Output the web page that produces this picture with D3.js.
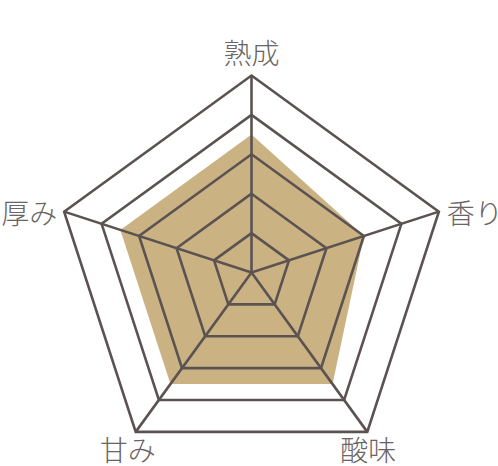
<!DOCTYPE html>
<head>
  <meta charset="utf-8">
  <title>radar</title>
  <style>
    body { margin: 0; background: #fff; }
  </style>
</head>

<script src="https://d3js.org/d3.v7.min.js"></script>

<div id="my_dataviz"></div>

<script>

  // axes clockwise from the top
  const axes = ["熟成", "香り", "酸味", "甘み", "厚み"];
  const values = [3.5, 3, 3.5, 3.5, 3.5];
  const levels = [1, 2, 3, 4, 5];

  const width = 498, height = 466;
  const cx = 251.5, cy = 272.5, R = 197;

  const svg = d3.select("#my_dataviz")
    .append("svg")
      .attr("width", width)
      .attr("height", height);

  const r = d3.scaleLinear().domain([0, 5]).range([0, R]);
  const angle = d3.scalePoint().domain(axes).range([0, 2 * Math.PI * 4 / 5]);

  const pt = (a, v) => [cx + r(v) * Math.sin(angle(a)), cy - r(v) * Math.cos(angle(a))];

  const line = d3.line();

  // data area under the grid
  svg.append("path")
    .attr("d", line(axes.map((a, i) => pt(a, values[i]))) + "Z")
    .attr("fill", "#cbb283");

  // grid rings
  svg.append("g")
    .selectAll("path")
    .data(levels)
    .join("path")
      .attr("d", l => line(axes.map(a => pt(a, l))) + "Z")
      .attr("fill", "none")
      .attr("stroke", "#5b5352")
      .attr("stroke-width", 2.6)
      .attr("stroke-linejoin", "miter");

  // spokes
  svg.append("g")
    .selectAll("line")
    .data(axes)
    .join("line")
      .attr("x1", cx).attr("y1", cy)
      .attr("x2", a => pt(a, 5)[0])
      .attr("y2", a => pt(a, 5)[1])
      .attr("stroke", "#5b5352")
      .attr("stroke-width", 2.6);

  // labels: offset from the outer vertex
  const off = {
    "熟成": {dx: 0, dy: -12, anchor: "middle", base: "auto"},
    "香り": {dx: 8, dy: 0, anchor: "start", base: "central"},
    "酸味": {dx: 1, dy: 29, anchor: "middle", base: "auto"},
    "甘み": {dx: -8, dy: 29, anchor: "middle", base: "auto"},
    "厚み": {dx: -7, dy: 0, anchor: "end", base: "central"}
  };

  svg.append("g")
    .selectAll("text")
    .data(axes)
    .join("text")
      .attr("x", a => pt(a, 5)[0] + off[a].dx)
      .attr("y", a => pt(a, 5)[1] + off[a].dy)
      .attr("text-anchor", a => off[a].anchor)
      .attr("dominant-baseline", a => off[a].base)
      .attr("font-family", "'Noto Sans CJK JP', sans-serif")
      .attr("font-weight", 300)
      .attr("font-size", 28)
      .attr("fill", "#6a6463")
      .text(a => a);

</script>
